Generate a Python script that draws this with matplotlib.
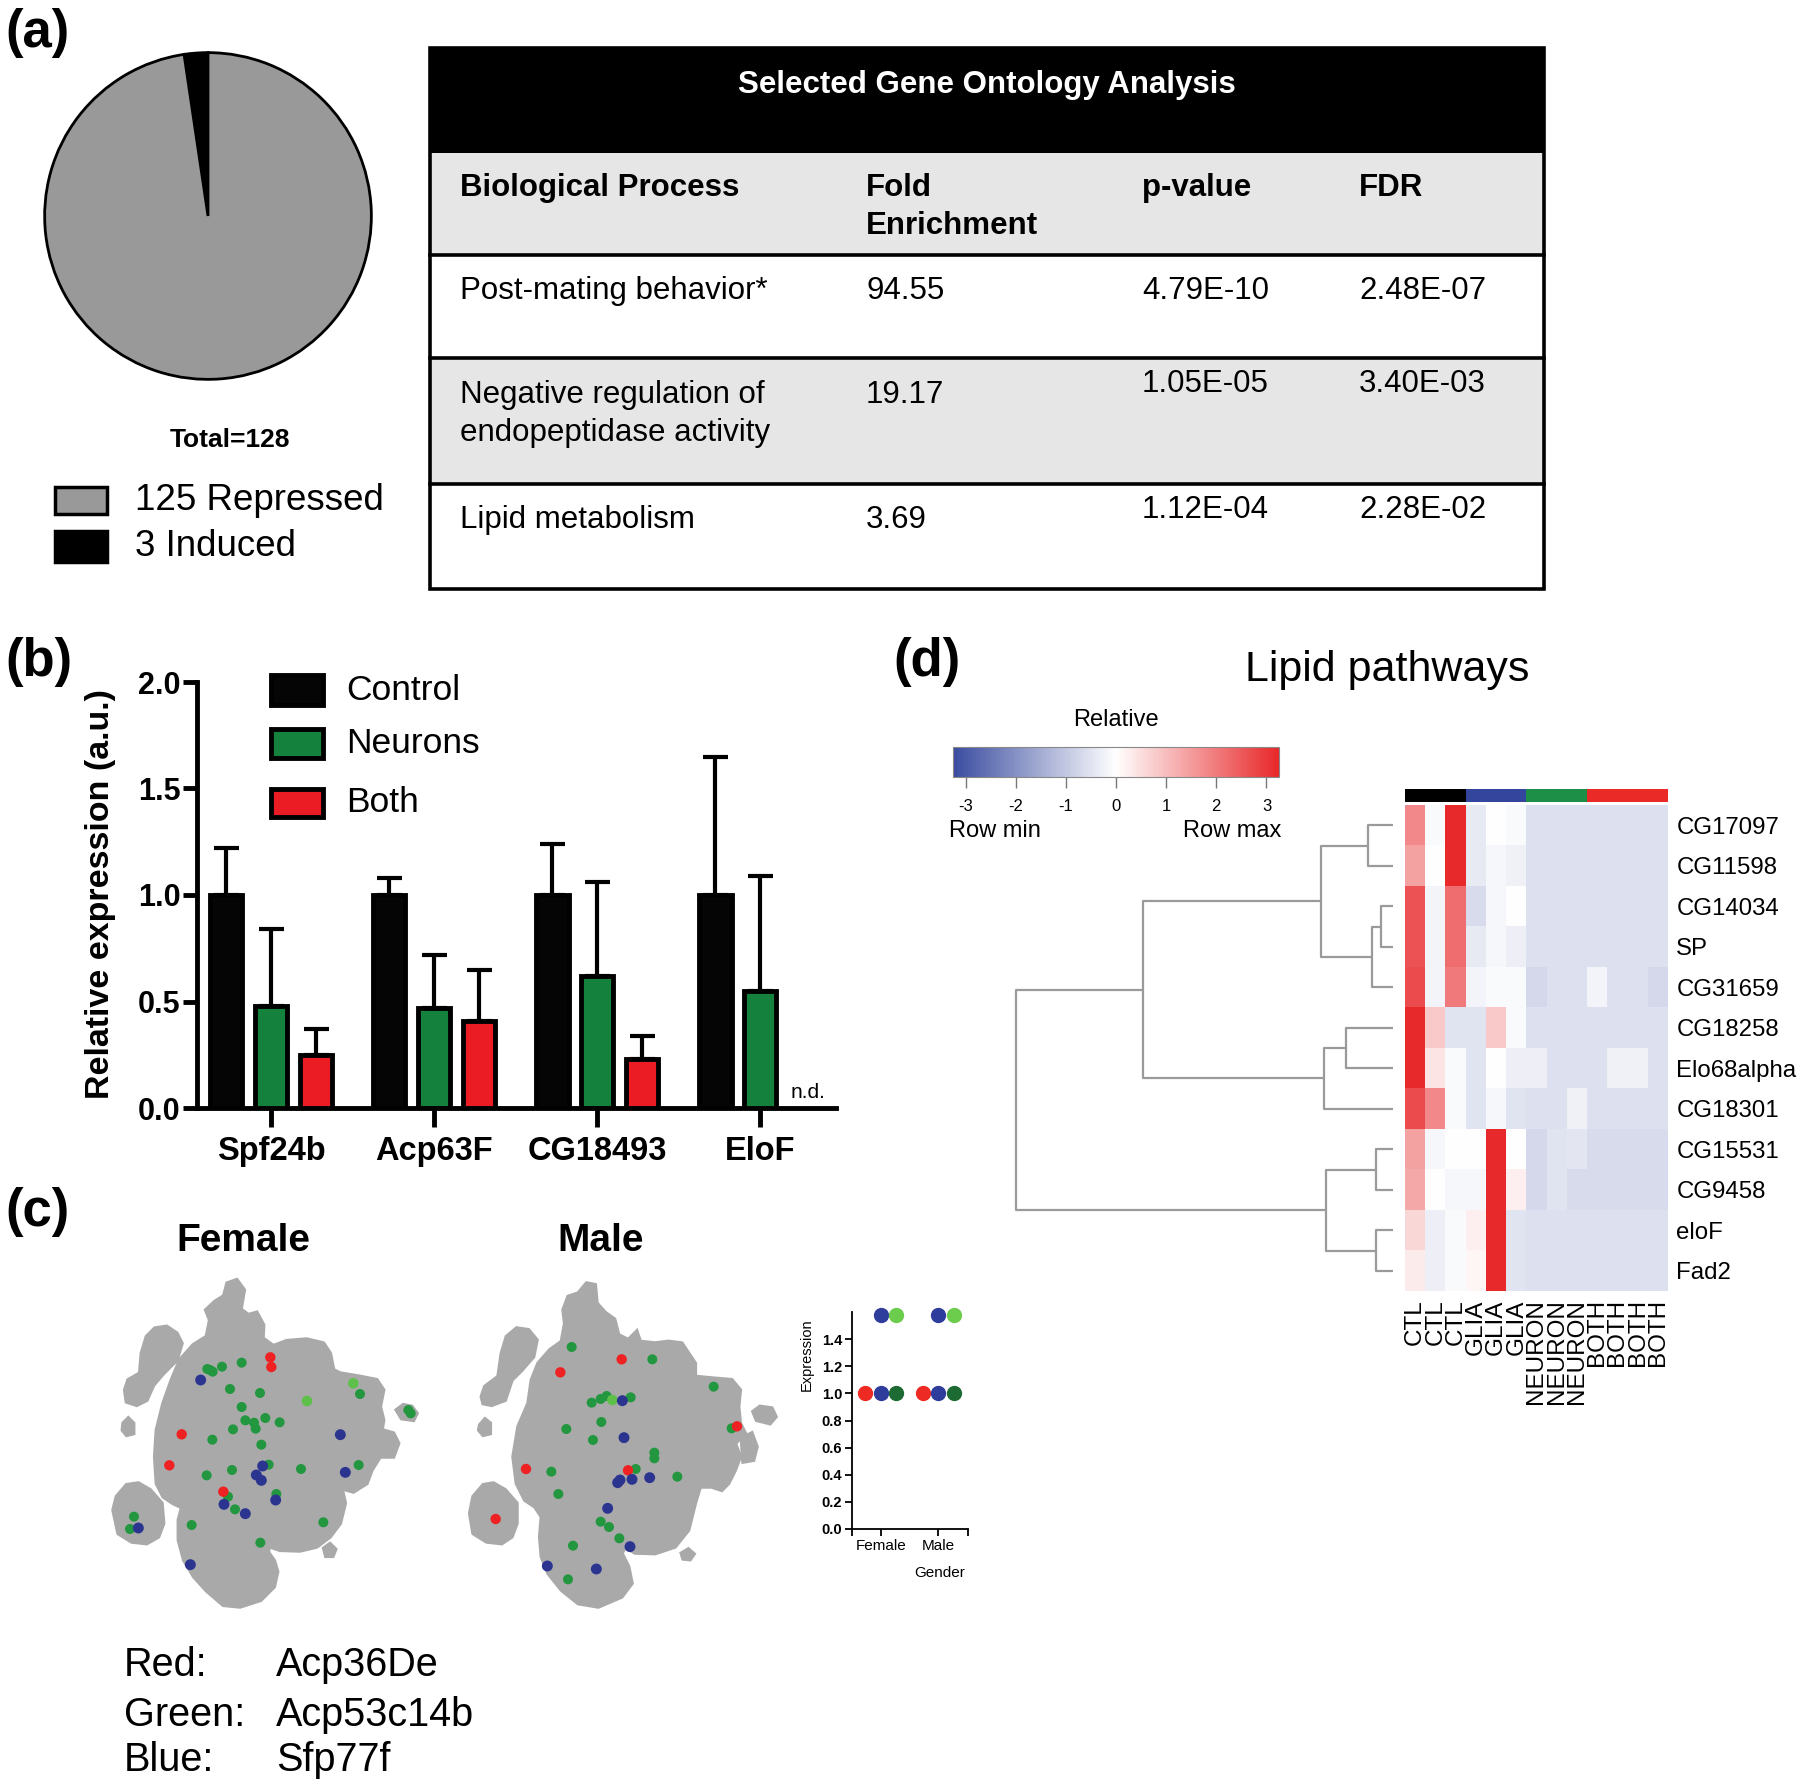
import numpy as np
import matplotlib
matplotlib.use("Agg")
import matplotlib.pyplot as plt
from matplotlib.colors import LinearSegmentedColormap, ListedColormap, Normalize
from matplotlib.cm import ScalarMappable
from matplotlib.patches import Rectangle

plt.rcParams['font.family'] = ['Liberation Sans', 'DejaVu Sans']
plt.rcParams['axes.unicode_minus'] = False
NARROW = ['Liberation Sans Narrow', 'Liberation Sans', 'DejaVu Sans']

W, H = 1800, 1789

# ---------------- data ----------------
# (a)
pie_labels = ["125 Repressed", "3 Induced"]
pie_counts = [125, 3]
go_title = "Selected Gene Ontology Analysis"
go_header = ["Biological Process", "Fold\nEnrichment", "p-value", "FDR"]
go_process = ["Post-mating behavior*", "Negative regulation of\nendopeptidase activity", "Lipid metabolism"]
go_fold = ["94.55", "19.17", "3.69"]
go_pval = ["4.79E-10", "1.05E-05", "1.12E-04"]
go_fdr = ["2.48E-07", "3.40E-03", "2.28E-02"]

# (b)
genes = ["Spf24b", "Acp63F", "CG18493", "EloF"]
groups = ["Control", "Neurons", "Both"]
ctl_mean = [1.0, 1.0, 1.0, 1.0]
ctl_err = [0.22, 0.08, 0.24, 0.65]
neu_mean = [0.48, 0.47, 0.62, 0.55]
neu_err = [0.36, 0.25, 0.44, 0.54]
both_mean = [0.25, 0.41, 0.23, np.nan]   # n.d. for EloF
both_err = [0.12, 0.24, 0.11, np.nan]

# (c) t-SNE outlines and cells (arbitrary t-SNE units, y grows downward)
fem_body = [(165, 560), (170, 480), (190, 400), (215, 330), (240, 270), (280, 225), (320, 200),
            (330, 150), (318, 120), (345, 95), (372, 78), (382, 40), (410, 30), (432, 60), (422, 118),
            (445, 135), (470, 128), (490, 165), (488, 205), (520, 228), (560, 213), (620, 208),
            (670, 220), (690, 250), (700, 300), (720, 310), (780, 320), (830, 330), (850, 360),
            (840, 410), (850, 450), (845, 480), (880, 490), (895, 520), (880, 560), (840, 560),
            (815, 600), (800, 640), (760, 665), (725, 655), (735, 700), (720, 760), (690, 800),
            (650, 830), (600, 842), (540, 840), (505, 828), (505, 848), (522, 872), (532, 905),
            (522, 950), (482, 990), (420, 1010), (370, 1005), (320, 962), (282, 920), (252, 870),
            (236, 810), (236, 750), (246, 712), (220, 700), (190, 680), (170, 640)]
fem_islands = [
    [(75, 360), (85, 330), (120, 310), (125, 250), (140, 200), (165, 175), (200, 170), (230, 190),
     (245, 220), (230, 270), (210, 290), (190, 310), (160, 345), (140, 390), (110, 405), (80, 395)],
    [(70, 460), (85, 445), (100, 460), (100, 490), (80, 495), (68, 480)],
    [(40, 720), (50, 680), (80, 645), (115, 640), (150, 660), (185, 700), (190, 760), (175, 800),
     (140, 820), (95, 815), (55, 790)],
    [(890, 420), (910, 405), (935, 410), (950, 430), (940, 450), (905, 445)],
    [(672, 835), (690, 822), (706, 838), (698, 858), (678, 858)],
]
fem_red = [(511, 262), (514, 291), (245, 493), (208, 586), (370, 665)]
fem_green = [(322, 297), (330, 300), (338, 305), (366, 290), (425, 278), (390, 357), (480, 369),
             (425, 411), (436, 451), (462, 458), (467, 476), (496, 444), (539, 457), (399, 478),
             (337, 509), (484, 524), (506, 584), (396, 600), (320, 616), (603, 597), (776, 585),
             (780, 372), (384, 680), (529, 672), (405, 718), (275, 765), (670, 757), (481, 818),
             (102, 740), (90, 777), (925, 420), (932, 430)]
fem_ltgreen = [(760, 340), (621, 393)]
fem_blue = [(302, 330), (721, 494), (488, 588), (469, 615), (484, 631), (736, 607), (372, 703),
            (527, 690), (436, 731), (115, 774), (271, 884)]

male_body = [(175, 560), (190, 470), (220, 400), (230, 330), (250, 280), (285, 240), (320, 215),
             (330, 160), (325, 120), (340, 80), (370, 70), (395, 40), (420, 45), (425, 100),
             (450, 128), (478, 148), (490, 195), (520, 210), (545, 185), (555, 215), (600, 220),
             (640, 215), (680, 220), (700, 250), (720, 280), (720, 320), (770, 325), (830, 330),
             (855, 360), (850, 410), (855, 460), (870, 490), (840, 520), (855, 560), (840, 600),
             (820, 640), (800, 660), (770, 650), (735, 650), (720, 700), (700, 780), (660, 830),
             (600, 850), (540, 848), (510, 830), (500, 850), (520, 890), (530, 940), (500, 980),
             (430, 1010), (370, 1000), (320, 960), (280, 910), (260, 860), (255, 800), (260, 740),
             (240, 710), (210, 690), (185, 640)]
male_islands = [
    [(80, 380), (90, 350), (130, 320), (140, 250), (155, 200), (185, 175), (220, 180), (245, 210),
     (235, 260), (200, 300), (170, 330), (150, 390), (110, 405), (85, 400)],
    [(75, 465), (90, 448), (105, 460), (105, 490), (85, 495), (72, 480)],
    [(45, 730), (55, 680), (85, 645), (115, 640), (150, 660), (185, 700), (185, 760), (170, 800),
     (140, 820), (95, 815), (55, 790)],
    [(895, 425), (915, 410), (950, 415), (962, 440), (945, 460), (905, 450)],
    [(860, 505), (890, 490), (905, 530), (895, 570), (865, 575)],
    [(680, 850), (700, 838), (716, 852), (705, 868), (685, 866)],
]
male_red = [(500, 268), (316, 307), (846, 469), (213, 597), (519, 601), (122, 747)]
male_green = [(350, 231), (592, 268), (776, 350), (410, 398), (437, 387), (455, 378), (527, 382),
              (439, 456), (334, 477), (414, 510), (598, 548), (598, 565), (542, 597), (289, 605),
              (667, 620), (310, 672), (437, 755), (462, 771), (493, 805), (354, 827), (339, 928),
              (830, 475)]
male_ltgreen = [(472, 390)]
male_blue = [(502, 392), (507, 503), (488, 638), (495, 630), (531, 628), (584, 623), (458, 715),
             (525, 830), (277, 888), (424, 897)]

sexes = ["Female", "Male"]
expr_red = [1.0, 1.0]
expr_blue = [1.0, 1.0]
expr_dkgreen = [1.0, 1.0]
expr_blue_hi = [1.58, 1.58]
expr_ltgreen_hi = [1.58, 1.58]
gene_key = [("Red:", "Acp36De"), ("Green:", "Acp53c14b"), ("Blue:", "Sfp77f")]

# (d) heatmap
hm_rows = ["CG17097", "CG11598", "CG14034", "SP", "CG31659", "CG18258", "Elo68alpha",
           "CG18301", "CG15531", "CG9458", "eloF", "Fad2"]
hm_cols = ["CTL"] * 3 + ["GLIA"] * 3 + ["NEURON"] * 3 + ["BOTH"] * 4
hm_col_group = [0] * 3 + [1] * 3 + [2] * 3 + [3] * 4
hm_values = [
    [1.8, -0.1, 3.2, -0.4, 0.0, -0.1, -0.55, -0.55, -0.55, -0.55, -0.55, -0.55, -0.55],
    [1.4, 0.0, 3.2, -0.4, -0.15, -0.25, -0.55, -0.55, -0.55, -0.55, -0.55, -0.55, -0.55],
    [2.6, -0.2, 2.2, -0.65, -0.15, 0.0, -0.55, -0.55, -0.55, -0.55, -0.55, -0.55, -0.55],
    [2.6, -0.2, 2.2, -0.4, -0.15, -0.3, -0.55, -0.55, -0.55, -0.55, -0.55, -0.55, -0.55],
    [2.7, -0.2, 2.0, -0.2, -0.1, -0.1, -0.7, -0.55, -0.55, -0.2, -0.55, -0.55, -0.7],
    [3.2, 0.8, -0.5, -0.5, 0.8, -0.1, -0.55, -0.55, -0.55, -0.55, -0.55, -0.55, -0.55],
    [3.2, 0.4, -0.1, -0.5, 0.0, -0.3, -0.3, -0.55, -0.55, -0.55, -0.25, -0.25, -0.55],
    [2.7, 1.8, -0.1, -0.5, -0.15, -0.5, -0.55, -0.55, -0.25, -0.55, -0.55, -0.55, -0.55],
    [1.4, -0.15, 0.0, 0.0, 3.2, 0.0, -0.7, -0.5, -0.45, -0.65, -0.65, -0.65, -0.65],
    [1.3, 0.0, -0.15, -0.15, 3.2, 0.25, -0.7, -0.5, -0.65, -0.65, -0.65, -0.65, -0.65],
    [0.6, -0.3, -0.1, 0.25, 3.2, -0.5, -0.55, -0.55, -0.55, -0.55, -0.55, -0.55, -0.55],
    [0.3, -0.3, -0.1, 0.15, 3.2, -0.5, -0.55, -0.55, -0.55, -0.55, -0.55, -0.55, -0.55],
]
# row dendrogram: (child a, child b, height); nodes 12.. are created in order
den_merges = [(0, 1, 25), (2, 3, 12), (13, 4, 21), (12, 14, 72), (5, 6, 47), (16, 7, 69),
              (15, 17, 250), (8, 9, 17), (10, 11, 17), (19, 20, 67), (18, 21, 377)]


def px_axes(fig, x0, y0, x1, y1):
    return fig.add_axes([x0 / W, 1 - y1 / H, (x1 - x0) / W, (y1 - y0) / H])


fig = plt.figure(figsize=(18, 17.89), dpi=100)

# ---------------- (a) pie ----------------
axp = px_axes(fig, 43, 51, 373, 381)
axp.pie(pie_counts[::-1], colors=['black', '#999999'], startangle=90, counterclock=True,
        wedgeprops=dict(edgecolor='black', linewidth=2))
axp.set_xlim(-1.01, 1.01)
axp.set_ylim(-1.01, 1.01)

# ---------------- (b) bars ----------------
axb = px_axes(fig, 197, 682, 836, 1108)
x = np.arange(len(genes))
off, bw = 0.275, 0.2
bar_sets = [(ctl_mean, ctl_err, '#050505'), (neu_mean, neu_err, '#14823c'), (both_mean, both_err, '#ec1c24')]
for k, (m, e, c) in enumerate(bar_sets):
    m = np.array(m)
    e = np.array(e)
    ok = ~np.isnan(m)
    xx = x[ok] + (k - 1) * off
    axb.bar(xx, m[ok], bw, color=c, edgecolor='black', linewidth=3.5, zorder=3)
    axb.errorbar(xx, m[ok], yerr=[np.zeros(ok.sum()), e[ok]], fmt='none', ecolor='black',
                 elinewidth=3, capsize=9, capthick=3, zorder=2)
axb.set_xlim(-0.454, 3.466)
axb.set_ylim(0, 2.0)
axb.spines[['top', 'right']].set_visible(False)
axb.spines['left'].set_linewidth(3.5)
axb.spines['bottom'].set_linewidth(3.5)
axb.set_yticks([0, 0.5, 1.0, 1.5, 2.0])
axb.set_yticklabels(["0.0", "0.5", "1.0", "1.5", "2.0"], fontsize=22, fontweight='bold')
axb.set_xticks(x)
axb.set_xticklabels(genes, fontsize=23.5, fontweight='bold')
axb.tick_params(axis='y', length=10, width=3.5, pad=2)
axb.tick_params(axis='x', length=14, width=3.5, pad=6)

# ---------------- (c) t-SNE ----------------
def tsne_panel(ax, body, islands, red, green, ltgreen, blue):
    for poly in [body] + islands:
        px, py = zip(*poly)
        ax.fill(px, py, color='#a9a9a9', lw=3, edgecolor='#a9a9a9', zorder=1)
    for pts, c, s in [(green, '#23973f', 52), (ltgreen, '#5ec04a', 58), (red, '#ee2222', 56), (blue, '#2b3590', 62)]:
        px, py = zip(*pts)
        ax.scatter(px, py, s=s, color=c, edgecolor='none', zorder=3)
    ax.set_xlim(0, 990)
    ax.set_ylim(1035, 0)
    ax.axis('off')


axf = px_axes(fig, 100, 1270, 430, 1615)
tsne_panel(axf, fem_body, fem_islands, fem_red, fem_green, fem_ltgreen, fem_blue)
axm = px_axes(fig, 455, 1270, 785, 1615)
tsne_panel(axm, male_body, male_islands, male_red, male_green, male_ltgreen, male_blue)

axe = px_axes(fig, 852, 1312, 968, 1529)
xs = np.arange(1, len(sexes) + 1)
ds = 0.27
axe.scatter(xs - ds, expr_red, s=100, color='#ee2a24', zorder=3, clip_on=False)
axe.scatter(xs, expr_blue, s=100, color='#2e3c9c', zorder=3, clip_on=False)
axe.scatter(xs + ds, expr_dkgreen, s=100, color='#1d6a33', zorder=3, clip_on=False)
axe.scatter(xs, expr_blue_hi, s=100, color='#2e3c9c', zorder=3, clip_on=False)
axe.scatter(xs + ds, expr_ltgreen_hi, s=100, color='#6ccc4c', zorder=3, clip_on=False)
axe.set_xlim(0.5, 2.52)
axe.set_ylim(0, 1.6)
axe.spines[['top', 'right']].set_visible(False)
axe.spines['left'].set_linewidth(1.3)
axe.spines['bottom'].set_linewidth(1.3)
yt = [0.0, 0.2, 0.4, 0.6, 0.8, 1.0, 1.2, 1.4]
axe.set_yticks(yt)
axe.set_yticklabels([f"{v:.1f}" for v in yt], fontsize=10.5, fontweight='bold')
axe.set_xticks(xs)
axe.set_xticklabels(sexes, fontsize=11)
axe.set_xticks([0.5, 2.52], minor=True)
axe.tick_params(axis='both', which='both', length=5, width=1.3, pad=2)

# ---------------- (d) heatmap ----------------
cmap = LinearSegmentedColormap.from_list('bwr_rel', ['#3a4ca0', '#ffffff', '#e8282a'])
norm = Normalize(-3.25, 3.25)

axh = px_axes(fig, 1405, 805, 1668, 1291)
axh.imshow(np.array(hm_values), cmap=cmap, norm=norm, aspect='auto', interpolation='nearest')
axh.set_xticks(np.arange(len(hm_cols)))
axh.set_xticklabels(hm_cols, rotation=90, fontsize=17.5, va='top')
axh.set_yticks(np.arange(len(hm_rows)))
axh.set_yticklabels(hm_rows, fontsize=17.3)
axh.yaxis.tick_right()
axh.tick_params(length=0, pad=6)
for s in axh.spines.values():
    s.set_visible(False)

axg = px_axes(fig, 1405, 789, 1668, 802)
axg.imshow(np.array([hm_col_group]), cmap=ListedColormap(['#000000', '#33459c', '#1e8f47', '#ea2a26']),
           aspect='auto', interpolation='nearest')
axg.axis('off')

axd = px_axes(fig, 1013, 805, 1393, 1291)
node_y = {i: float(i) for i in range(len(hm_rows))}
node_h = {i: 0.0 for i in range(len(hm_rows))}
for k, (a, b, h) in enumerate(den_merges):
    nid = len(hm_rows) + k
    axd.plot([node_h[a], h, h, node_h[b]], [node_y[a], node_y[a], node_y[b], node_y[b]],
             color='#9a9a9a', lw=1.6, solid_capstyle='butt')
    node_y[nid] = (node_y[a] + node_y[b]) / 2
    node_h[nid] = h
axd.set_xlim(380, 0)
axd.set_ylim(len(hm_rows) - 0.5, -0.5)
axd.axis('off')

cax = px_axes(fig, 953, 747, 1279, 777)
cb = fig.colorbar(ScalarMappable(norm=norm, cmap=cmap), cax=cax, orientation='horizontal',
                  ticks=[-3, -2, -1, 0, 1, 2, 3])
cb.outline.set_edgecolor('#888888')
cb.outline.set_linewidth(0.8)
cax.tick_params(length=8, width=1, color='#777777', labelsize=12, pad=8)

# ---------------- overlay: table + texts ----------------
ov = fig.add_axes([0, 0, 1, 1])
ov.set_xlim(0, W)
ov.set_ylim(H, 0)
ov.axis('off')
ov.patch.set_alpha(0)

tx0, tx1 = 430, 1544
row_edges = [48, 153, 255, 358, 484, 589]
fills = ['black', '#e6e6e6', 'white', '#e6e6e6', 'white']
for y0, y1, fc in zip(row_edges[:-1], row_edges[1:], fills):
    ov.add_patch(Rectangle((tx0, y0), tx1 - tx0, y1 - y0, facecolor=fc, edgecolor='none'))
for y in row_edges[2:-1]:
    ov.plot([tx0, tx1], [y, y], color='black', lw=2.6)
ov.add_patch(Rectangle((tx0, row_edges[0]), tx1 - tx0, row_edges[-1] - row_edges[0],
                       fill=False, edgecolor='black', lw=2.6))
ov.text((tx0 + tx1) / 2, 85, go_title, color='white', fontsize=22.5, fontweight='bold',
        ha='center', va='center')

col_x = [460, 866, 1142, 1359]
for cx, lab in zip(col_x, go_header):
    for j, line in enumerate(lab.split("\n")):
        ov.text(cx, 188 + 38 * j, line, fontsize=22.5, fontweight='bold', ha='left', va='center')

name_y = [291, 395, 520]
stat_y = [291, 384, 510]
for i in range(len(go_process)):
    for j, line in enumerate(go_process[i].split("\n")):
        ov.text(col_x[0], name_y[i] + 38 * j, line, fontsize=22.5, ha='left', va='center')
    ov.text(col_x[1], name_y[i], go_fold[i], fontsize=22.5, ha='left', va='center')
    ov.text(col_x[2], stat_y[i], go_pval[i], fontsize=22.5, ha='left', va='center')
    ov.text(col_x[3], stat_y[i], go_fdr[i], fontsize=22.5, ha='left', va='center')

# panel letters
for lab, (lx, ly) in zip(["(a)", "(b)", "(c)", "(d)"], [(5, 33), (5, 662), (5, 1212), (893, 662)]):
    ov.text(lx, ly, lab, fontsize=38, fontweight='bold', ha='left', va='center')

# pie legend
ov.text(230, 440, "Total=" + str(sum(pie_counts)), fontsize=19, fontweight='bold', ha='center', va='center')
for (ly, lh), lab, fc in zip([(487, 27), (531, 31)], pie_labels, ['#999999', 'black']):
    ov.add_patch(Rectangle((55, ly), 52, lh, facecolor=fc, edgecolor='black', lw=2.5))
    ov.text(135, ly + lh / 2, lab, fontsize=26.5, ha='left', va='center')

# bar legend
for (ly, lh), lab, fc in zip([(675, 30), (729, 29), (789, 28)], groups, ['#050505', '#14823c', '#ec1c24']):
    ov.add_patch(Rectangle((271, ly), 52, lh, facecolor=fc, edgecolor='black', lw=3.5))
    ov.text(346, ly + lh / 2, lab, fontsize=25.5, family=NARROW, ha='left', va='center')
ov.text(808, 1092, "n.d.", fontsize=15, family=NARROW, ha='center', va='center')
ov.text(101, 894, "Relative expression (a.u.)", fontsize=24.5, fontweight='bold', rotation=90,
        ha='center', va='center')

# (c) labels
ov.text(243, 1241, "Female", fontsize=28, fontweight='bold', ha='center', va='center')
ov.text(601, 1241, "Male", fontsize=28, fontweight='bold', ha='center', va='center')
ov.text(807, 1355, "Expression", fontsize=10.5, rotation=90, ha='center', va='center')
ov.text(940, 1573, "Gender", fontsize=11, ha='center', va='center')
for (c, g), ly in zip(gene_key, [1665, 1715, 1760]):
    ov.text(124, ly, c, fontsize=28.5, ha='left', va='center')
    ov.text(276, ly, g, fontsize=28.5, ha='left', va='center')

# (d) labels
ov.text(1387, 670, "Lipid pathways", fontsize=31, ha='center', va='center')
ov.text(1116, 720, "Relative", fontsize=17, ha='center', va='center')
ov.text(995, 831, "Row min", fontsize=17, ha='center', va='center')
ov.text(1232, 831, "Row max", fontsize=17, ha='center', va='center')

fig.savefig("out.png", dpi=100)
